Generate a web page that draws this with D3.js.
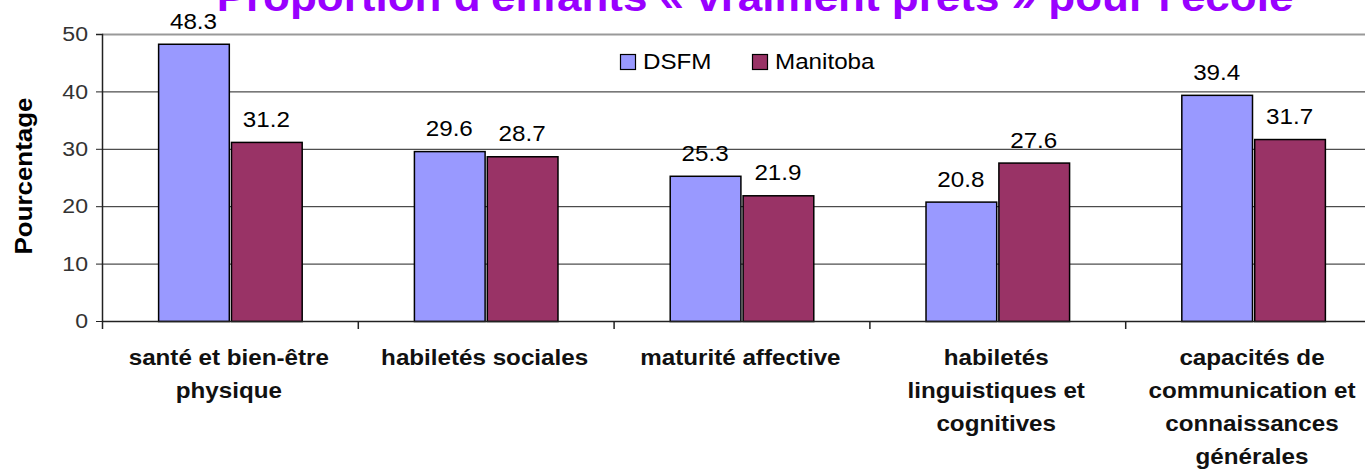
<!DOCTYPE html>
<html>
<head>
<meta charset="utf-8">
<script src="https://cdn.jsdelivr.net/npm/d3@7"></script>
<style>
  body { margin: 0; background: #fff; }
  text { font-family: "Liberation Sans", Arial, sans-serif; }
</style>
</head>
<body>
<div id="canvas"></div>
<script>
const categories = [
  ["santé et bien-être", "physique"],
  ["habiletés sociales"],
  ["maturité affective"],
  ["habiletés", "linguistiques et", "cognitives"],
  ["capacités de", "communication et", "connaissances", "générales"]
];
const seriesNames = ["DSFM", "Manitoba"];
const dsfm = [48.3, 29.6, 25.3, 20.8, 39.4];
const manitoba = [31.2, 28.7, 21.9, 27.6, 31.7];
const yTicks = [0, 10, 20, 30, 40, 50];
const colors = ["#9999ff", "#993366"];

// the reference text is a little wider than Liberation Sans
const sx = 1.1;

const width = 1365;
const height = 469;
const margin = { top: 34, left: 102, bottom: 148, right: -16 };
const iwidth = width - margin.left - margin.right;
const iheight = height - margin.top - margin.bottom;

const svg = d3.select("#canvas").append("svg")
  .attr("width", width)
  .attr("height", height);

svg.append("text")
  .attr("transform", `translate(755,11) scale(${sx},1)`)
  .attr("text-anchor", "middle")
  .style("font-size", "40px")
  .style("font-weight", "bold")
  .style("fill", "#9900ff")
  .text("Proportion d'enfants « vraiment prêts » pour l'école");

const g = svg.append("g")
  .attr("transform", `translate(${margin.left},${margin.top})`);

const y = d3.scaleLinear().domain([0, 50]).range([iheight, 0]);
const x = d3.scaleBand()
  .domain(d3.range(categories.length))
  .range([0, iwidth]);
const x1 = d3.scaleBand()
  .domain([0, 1])
  .range([0, x.bandwidth()])
  .paddingOuter(0.77)
  .paddingInner(0.03);

// gridlines
g.selectAll(".grid")
  .data(yTicks)
  .enter()
  .append("line")
  .attr("x1", 0)
  .attr("x2", iwidth)
  .attr("y1", (d) => y(d) + 0.5)
  .attr("y2", (d) => y(d) + 0.5)
  .style("stroke", (d) => (d === 50 ? "#999" : "#222"))
  .style("stroke-width", (d) => (d === 50 ? 2 : 1));

const data = categories.map((c, i) => ({ i, values: [dsfm[i], manitoba[i]] }));

const groups = g.selectAll(".cat")
  .data(data)
  .enter()
  .append("g")
  .attr("transform", (d) => `translate(${x(d.i)},0)`);

groups.selectAll("rect")
  .data((d) => d.values.map((v, k) => ({ v, k })))
  .enter()
  .append("rect")
  .attr("x", (d) => x1(d.k) + 0.5)
  .attr("y", (d) => y(d.v) + 0.5)
  .attr("width", x1.bandwidth())
  .attr("height", (d) => iheight - y(d.v))
  .style("fill", (d) => colors[d.k])
  .style("stroke", "#000")
  .style("stroke-width", 1.5);

groups.selectAll(".lbl")
  .data((d) => d.values.map((v, k) => ({ v, k })))
  .enter()
  .append("text")
  .attr("transform", (d) => `translate(${x1(d.k) + x1.bandwidth() / 2},${y(d.v) - 15}) scale(${sx},1)`)
  .attr("text-anchor", "middle")
  .style("font-size", "22px")
  .style("fill", "#000")
  .text((d) => d.v.toFixed(1));

// y axis
const yAxis = g.append("g")
  .call(d3.axisLeft(y).tickValues(yTicks).tickSize(6).tickPadding(8));
yAxis.select(".domain").attr("d", `M0.5,${iheight + 0.5}V0.5H-6`).style("stroke", "#222").style("stroke-width", 1.5);
yAxis.selectAll("line").style("stroke", "#222");
yAxis.selectAll("text").style("font-size", "21px").style("fill", "#333")
  .style("font-family", "'Liberation Sans', Arial, sans-serif")
  .attr("transform", `scale(${sx},1)`)
  .attr("x", -14 / sx);

// x axis
const xAxis = g.append("g")
  .attr("transform", `translate(0,${iheight})`);
xAxis.append("line")
  .attr("x1", 0).attr("x2", iwidth)
  .attr("y1", 0.5).attr("y2", 0.5)
  .style("stroke", "#222").style("stroke-width", 1.5);
xAxis.selectAll(".tick")
  .data(d3.range(categories.length + 1))
  .enter()
  .append("line")
  .attr("x1", (d) => (d < categories.length ? x(d) : iwidth) + 0.5)
  .attr("x2", (d) => (d < categories.length ? x(d) : iwidth) + 0.5)
  .attr("y1", 0).attr("y2", 8)
  .style("stroke", "#222").style("stroke-width", 1.5);

const catLabels = xAxis.selectAll(".cl")
  .data(data)
  .enter()
  .append("text")
  .attr("text-anchor", "middle")
  .attr("transform", (d) => `translate(${x(d.i) + x1(0) + x1.bandwidth()},0) scale(${sx},1)`)
  .style("font-size", "22px")
  .style("font-weight", "bold")
  .style("fill", "#111");
catLabels.selectAll("tspan")
  .data((d) => categories[d.i])
  .enter()
  .append("tspan")
  .attr("x", 0)
  .attr("y", (d, j) => 44 + j * 33)
  .text((d) => d);

// y axis title
svg.append("text")
  .attr("transform", "translate(32,176) rotate(-90) scale(1.08,1)")
  .attr("text-anchor", "middle")
  .style("font-size", "24px")
  .style("font-weight", "bold")
  .text("Pourcentage");

// legend
const legend = svg.append("g");
const legendX = [620, 752];
seriesNames.forEach((name, k) => {
  legend.append("rect")
    .attr("x", legendX[k] + 0.5)
    .attr("y", 54.5)
    .attr("width", 15)
    .attr("height", 15)
    .style("fill", colors[k])
    .style("stroke", "#000")
    .style("stroke-width", 1.2);
  legend.append("text")
    .attr("transform", `translate(${legendX[k] + 23},69) scale(${sx},1)`)
    .style("font-size", "22px")
    .style("fill", "#000")
    .text(name);
});
</script>
</body>
</html>
